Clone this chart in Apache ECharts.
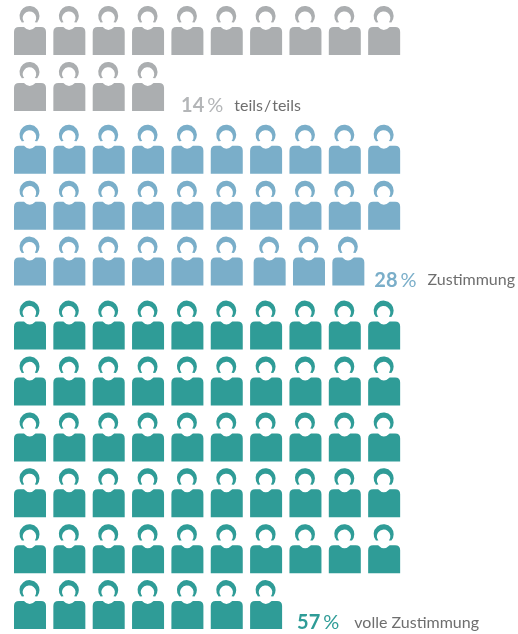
<!DOCTYPE html>
<html><head><meta charset="utf-8">
<style>html,body{margin:0;padding:0;background:#fff}#c{width:518px;height:634px}</style>
<script src="https://cdn.jsdelivr.net/npm/echarts@6/dist/echarts.min.js"></script>
</head><body><div id="c"></div>
<script>
// icons per row, for each group (1 icon = 1 %)
const greyRows = [10, 4];
const blueRows = [10, 10, 9];
const greenRows = [10, 10, 10, 10, 10, 7];
const percents = ['14', '28', '57'];
const labels = ['teils\u200A/\u200Ateils', 'Zustimmung', 'volle Zustimmung'];
const colors = ['#ABAEB0', '#7AAEC9', '#2F9C97'];
const pctColors = ['#B4B6B8', '#7AAEC9', '#2F9C97'];

const PERSON = 'path://M7.8 16.4 A10 10 0 1 1 23.2 16.4 L20.8 16.2 A6.7 6.7 0 1 0 10.2 16.2 Z ' +
  'M0 26 Q0 21 5 21 L10 21 Q15.6 27 21.5 21 L27 21 Q32 21 32 26 L32 49 L0 49 Z';

const colW = 39.35, rowH = 55.9, x0 = 30, y0 = 30.5;
const groupGap = [0, 0.125, 0.27];

function build(rows, g, startRow) {
  const pts = [];
  rows.forEach((n, r) => {
    for (let c = 0; c < n; c++) {
      // the last, shorter blue row sits slightly to the right from column 6 on
      const nudge = (g === 1 && r === 2 && c >= 6) ? 0.09 : 0;
      pts.push([c + nudge, startRow + r + groupGap[g]]);
    }
  });
  const last = pts[pts.length - 1];
  pts[pts.length - 1] = {
    value: last,
    label: {
      show: true, position: 'right', distance: [17, 10, 15][g], offset: [0, [19, 19, 18][g]],
      formatter: '{n|' + percents[g] + '}{p|%}{l|' + labels[g] + '}',
      rich: {
        n: {fontFamily: 'Lato', fontWeight: 'bold', fontSize: 20, color: pctColors[g]},
        p: {fontFamily: 'Lato', fontSize: 20, color: pctColors[g], padding: [0, 0, 0, 3]},
        l: {fontFamily: 'Lato', fontSize: 16, color: '#6E6E6E', padding: [0, 0, 0, [11, 11, 15][g]]}
      }
    }
  };
  return {
    type: 'scatter', data: pts, symbol: PERSON, symbolSize: [32, 49],
    symbolKeepAspect: false, itemStyle: {color: colors[g], opacity: 1},
    clip: false, silent: true, animation: false
  };
}

const chart = echarts.init(document.getElementById('c'), null, {renderer: 'canvas'});
chart.setOption({
  backgroundColor: '#fff',
  animation: false,
  grid: {left: 0, right: 0, top: 0, bottom: 0},
  xAxis: {type: 'value', show: false, min: -x0 / colW, max: (518 - x0) / colW},
  yAxis: {type: 'value', show: false, inverse: true, min: -y0 / rowH, max: (634 - y0) / rowH},
  series: [
    build(greyRows, 0, 0),
    build(blueRows, 1, greyRows.length),
    build(greenRows, 2, greyRows.length + blueRows.length)
  ]
});
</script></body></html>
